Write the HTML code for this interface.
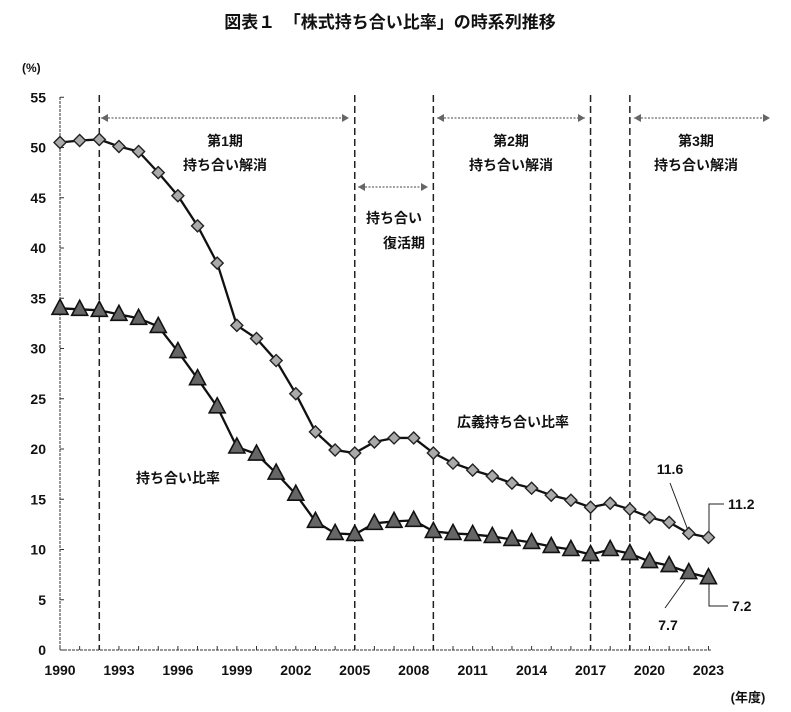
<!DOCTYPE html>
<html><head><meta charset="utf-8">
<style>
html,body{margin:0;padding:0;background:#fff;}
svg{display:block;font-family:"Liberation Sans","Noto Sans CJK JP",sans-serif;}
</style></head>
<body>
<svg id="c" width="791" height="712" viewBox="0 0 791 712" xmlns="http://www.w3.org/2000/svg">
<text x="390" y="28" text-anchor="middle" font-size="17" font-weight="bold" fill="#111">図表１　「株式持ち合い比率」の時系列推移</text>
<text x="22" y="72" font-size="12" font-weight="600" fill="#111">(%)</text>
<text x="748" y="702" text-anchor="middle" font-size="13" font-weight="600" fill="#111">(年度)</text>
<g id="g"></g>
</svg>
<script>
var NS="http://www.w3.org/2000/svg",g=document.getElementById('g');
function X(y){return 60+19.65*(y-1990);}
function Y(v){return 650-10.05*v;}
function el(t,a,txt){var e=document.createElementNS(NS,t);for(var k in a)e.setAttribute(k,a[k]);if(txt!=null)e.textContent=txt;g.appendChild(e);return e;}
el('line',{x1:60,y1:97,x2:60,y2:650,stroke:'#333','stroke-width':1,'stroke-dasharray':'3,1'});
el('line',{x1:60,y1:650,x2:712,y2:650,stroke:'#333','stroke-width':1,'stroke-dasharray':'3,1'});
for(var v=0;v<=55;v+=5){el('text',{x:46,y:Y(v)+5,'text-anchor':'end','font-size':14,'font-weight':600,fill:'#111'},v);
 el('line',{x1:60,y1:Y(v),x2:64,y2:Y(v),stroke:'#333'});}
for(var yr=1990;yr<=2023;yr++){el('line',{x1:X(yr),y1:650,x2:X(yr),y2:646,stroke:'#333'});}
for(var yr=1990;yr<=2023;yr+=3){el('text',{x:X(yr),y:675,'text-anchor':'middle','font-size':14,'font-weight':600,fill:'#111'},yr);}
[1992,2005,2009,2017,2019].forEach(function(yr){el('line',{x1:X(yr),y1:95,x2:X(yr),y2:650,stroke:'#222','stroke-width':1.5,'stroke-dasharray':'7,4'});});
function arr(x1,x2,y){el('line',{x1:x1,y1:y,x2:x2,y2:y,stroke:'#444','stroke-width':1,'stroke-dasharray':'2,1.5'});
 el('path',{d:'M'+x1+' '+y+' l7 -4 l0 8 z',fill:'#666'});el('path',{d:'M'+x2+' '+y+' l-7 -4 l0 8 z',fill:'#666'});}
arr(101,349,118);arr(437,585,118);arr(634,770,118);arr(358,428,187);
function t(x,y,s,sz,anc){el('text',{x:x,y:y,'text-anchor':anc||'middle','font-size':sz||14,'font-weight':600,fill:'#111'},s);}
t(225,146,'第1期');t(225,170,'持ち合い解消');
t(511,146,'第2期');t(511,170,'持ち合い解消');
t(696,146,'第3期');t(696,170,'持ち合い解消');
t(394,223,'持ち合い');t(404,248,'復活期');
t(513,427,'広義持ち合い比率');t(178,483,'持ち合い比率');
t(670,474,'11.6',14);t(728,509,'11.2',14,'start');t(668,630,'7.7',14);t(732,611,'7.2',14,'start');
el('polyline',{points:'670,483 689,533',fill:'none',stroke:'#222'});
el('polyline',{points:'709,538 709,504 724,504',fill:'none',stroke:'#222'});
el('polyline',{points:'665,608 685,580',fill:'none',stroke:'#222'});
el('polyline',{points:'709,582 709,606 728,606',fill:'none',stroke:'#222'});
var A=[50.5,50.7,50.8,50.1,49.6,47.5,45.2,42.2,38.5,32.3,31.0,28.8,25.5,21.7,19.9,19.6,20.7,21.1,21.1,19.6,18.6,17.9,17.3,16.6,16.1,15.4,14.9,14.2,14.6,14.0,13.2,12.7,11.6,11.2];
var B=[34.0,33.9,33.8,33.4,33.0,32.2,29.7,27.0,24.2,20.2,19.5,17.6,15.5,12.8,11.6,11.5,12.6,12.8,12.9,11.8,11.6,11.5,11.3,11.0,10.7,10.3,10.0,9.5,10.0,9.6,8.8,8.4,7.7,7.2];
function series(D,tri){var p=D.map(function(v,i){return X(1990+i)+','+Y(v);}).join(' ');
 el('polyline',{points:p,fill:'none',stroke:'#111','stroke-width':2.3});
 D.forEach(function(v,i){var x=X(1990+i),y=Y(v);
  if(tri)el('path',{d:'M'+x+' '+(y-9)+' L'+(x+8)+' '+(y+6)+' L'+(x-8)+' '+(y+6)+' Z',fill:'#666',stroke:'#111','stroke-width':1.6});
  else el('path',{d:'M'+x+' '+(y-6)+' L'+(x+6)+' '+y+' L'+x+' '+(y+6)+' L'+(x-6)+' '+y+' Z',fill:'#aaa',stroke:'#222','stroke-width':1.4});});}
series(A,false);series(B,true);
</script>
</body></html>
